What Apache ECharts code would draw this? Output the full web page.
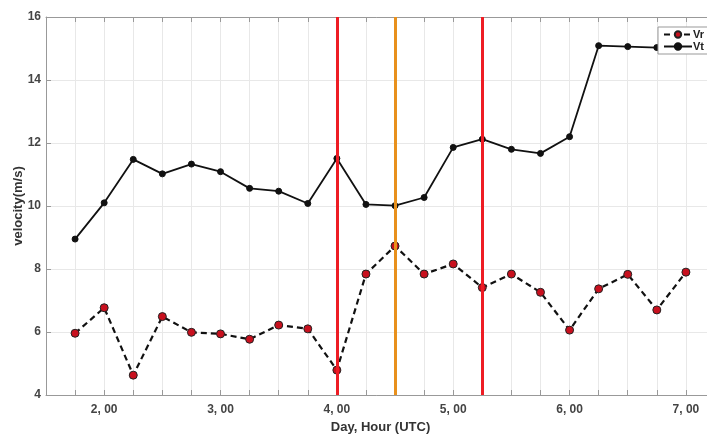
<!DOCTYPE html>
<html>
<head>
<meta charset="utf-8">
<script src="https://cdn.jsdelivr.net/npm/echarts@6/dist/echarts.min.js"></script>
<style>
html,body{margin:0;padding:0;background:#fff;}
#c{width:707px;height:435px;}
</style>
</head>
<body>
<div id="c"></div>
<script>
// Data (day + fraction of day, UTC)
var times = [1.75, 2.00, 2.25, 2.50, 2.75, 3.00, 3.25, 3.50, 3.75, 4.00, 4.25, 4.50, 4.75, 5.00, 5.25, 5.50, 5.75, 6.00, 6.25, 6.50, 6.75, 7.00];
var vr = [5.96, 6.77, 4.63, 6.49, 5.99, 5.94, 5.77, 6.22, 6.10, 4.79, 7.84, 8.73, 7.84, 8.16, 7.41, 7.84, 7.26, 6.06, 7.37, 7.83, 6.70, 7.90];
var vt = [8.95, 10.10, 11.48, 11.02, 11.33, 11.09, 10.56, 10.47, 10.08, 11.51, 10.05, 10.01, 10.27, 11.86, 12.12, 11.80, 11.67, 12.20, 15.09, 15.06, 15.03, 15.00];
var eventRed = [4.00, 5.25];
var eventOrange = [4.50];
var yTicks = [4, 6, 8, 10, 12, 14, 16];

function pairs(xs, ys) { return xs.map(function (x, i) { return [x, ys[i]]; }); }

var font = 'Liberation Sans, Arial, sans-serif';
var chart = echarts.init(document.getElementById('c'));
var markData = eventRed.map(function (t) { return { xAxis: t, lineStyle: { color: '#ee1c24' } }; })
  .concat(eventOrange.map(function (t) { return { xAxis: t, lineStyle: { color: '#e8901c' } }; }));

var xCommon = {
  type: 'value', min: 1.5, max: 7.25, interval: 0.25
};

chart.setOption({
  animation: false,
  backgroundColor: '#fff',
  grid: { left: 46, right: -8, top: 17, bottom: 40, outerBoundsMode: 'none', containLabel: false },
  legend: {
    orient: 'vertical',
    left: 658, top: 27,
    padding: [2, 6, 2, 5],
    itemGap: 1,
    itemWidth: 28, itemHeight: 8,
    backgroundColor: '#fff',
    borderColor: '#999', borderWidth: 1, borderRadius: 0,
    textStyle: { fontFamily: font, fontWeight: 'bold', fontSize: 11, color: '#222', padding: [0, 0, 0, -4] },
    data: ['Vr', 'Vt'],
    z: 10
  },
  xAxis: [
    Object.assign({}, xCommon, {
      position: 'bottom',
      name: 'Day, Hour (UTC)', nameLocation: 'middle', nameGap: 24,
      nameTextStyle: { fontFamily: font, fontWeight: 'bold', fontSize: 13, color: '#333' },
      axisLine: { lineStyle: { color: '#999', width: 1 } },
      axisTick: { inside: true, length: 5, lineStyle: { color: '#999' } },
      axisLabel: {
        fontFamily: font, fontWeight: 'bold', fontSize: 12, color: '#444', margin: 9,
        formatter: function (v) { return Math.abs(v - Math.round(v)) < 1e-6 ? Math.round(v) + ', 00' : ''; }
      },
      splitLine: { show: true, lineStyle: { color: '#e8e8e8', width: 1 } }
    }),
    Object.assign({}, xCommon, {
      position: 'top',
      axisLine: { show: true, lineStyle: { color: '#999', width: 1 } },
      axisTick: { show: true, inside: true, length: 5, lineStyle: { color: '#999' } },
      axisLabel: { show: false },
      splitLine: { show: false }
    })
  ],
  yAxis: {
    type: 'value', min: yTicks[0], max: yTicks[yTicks.length - 1], interval: 2,
    name: 'velocity(m/s)', nameLocation: 'middle', nameGap: 21, nameRotate: 90,
    nameMoveOverlap: false,
    nameTextStyle: { fontFamily: font, fontWeight: 'bold', fontSize: 13, color: '#333' },
    axisLine: { show: true, lineStyle: { color: '#999', width: 1 } },
    axisTick: { show: true, inside: true, length: 5, lineStyle: { color: '#999' } },
    axisLabel: { fontFamily: font, fontWeight: 'bold', fontSize: 12, color: '#444', margin: 5 },
    splitLine: { show: true, lineStyle: { color: '#e8e8e8', width: 1 } }
  },
  series: [
    {
      name: 'events', type: 'line', data: [], z: 1, silent: true,
      markLine: {
        symbol: ['none', 'none'], silent: true, animation: false,
        label: { show: false },
        lineStyle: { width: 3, type: 'solid' },
        data: markData
      }
    },
    {
      name: 'Vr', type: 'line', z: 3,
      data: pairs(times, vr),
      symbol: 'circle', symbolSize: 8,
      itemStyle: { color: '#c8101e', borderColor: '#222', borderWidth: 1 },
      lineStyle: { color: '#111', width: 2.2, type: [6, 4] }
    },
    {
      name: 'Vt', type: 'line', z: 3,
      data: pairs(times, vt),
      symbol: 'circle', symbolSize: 6,
      itemStyle: { color: '#111', borderColor: '#111', borderWidth: 1 },
      lineStyle: { color: '#111', width: 1.8 }
    }
  ]
});
</script>
</body>
</html>
